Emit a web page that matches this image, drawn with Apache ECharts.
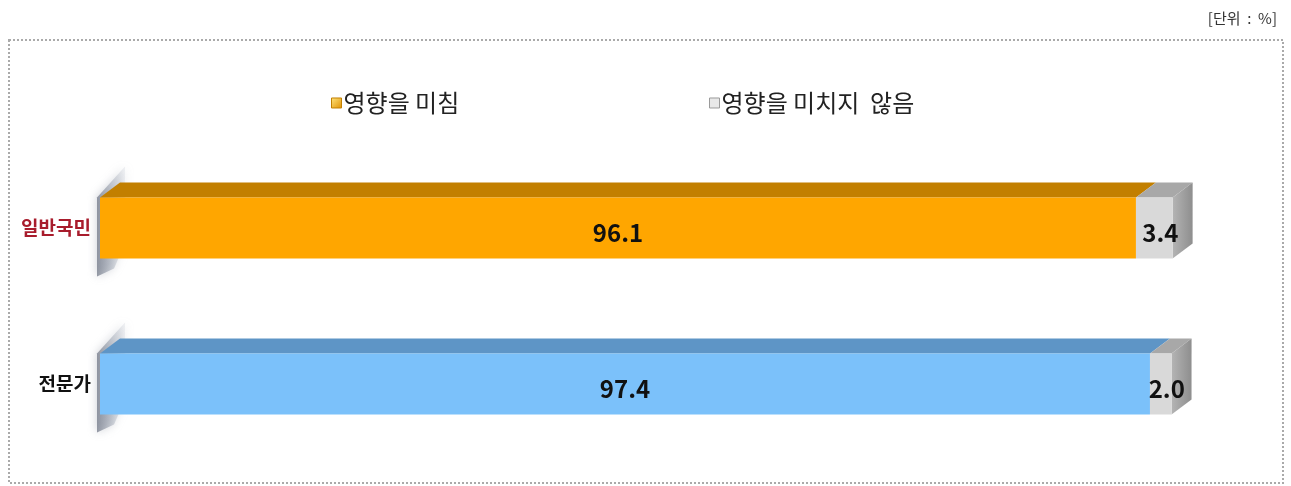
<!DOCTYPE html>
<html>
<head>
<meta charset="utf-8">
<script src="https://cdn.jsdelivr.net/npm/echarts@6/dist/echarts.min.js"></script>
<style>
html,body{margin:0;padding:0;background:#fff;}
#chart{width:1291px;height:486px;}
</style>
</head>
<body>
<div id="chart"></div>
<script>
var categories = ['일반국민', '전문가'];
var seriesNames = ['영향을 미침', '영향을 미치지  않음'];
var affected = [96.1, 97.4];
var notAffected = [3.4, 2.0];

// 앞면 / 윗면 색
var frontColors = [['#FFA600', '#7BC1FA'], ['#D9D9D9', '#D9D9D9']];
var topColors = [['#C27F00', '#5E95C6'], ['#A8A8A8', '#A8A8A8']];
var DX = 20, DY = 15;

var myChart = echarts.init(document.getElementById('chart'));

function buildData(idx){
    var list = [];
    for (var i = 0; i < categories.length; i++) {
        var start = idx == 0 ? 0 : affected[i];
        var val = idx == 0 ? affected[i] : notAffected[i];
        list.push([i, start, start + val, val]);
    }
    return list;
}

function renderBar(idx){
    return function(params, api){
        var cat = api.value(0);
        var p0 = api.coord([api.value(1), cat]);
        var p1 = api.coord([api.value(2), cat]);
        var h = api.size([0, 1])[1] * 0.39;
        var yt = p0[1] - h / 2, yb = p0[1] + h / 2;
        var x0 = p0[0], x1 = p1[0];
        var children = [];
        if (idx == 0) {
            // 왼쪽 벽 그림자
            children.push({
                type: 'polygon',
                shape: {points: [[x0 - 3, yt], [x0 + DX + 5, yt - DY - 16], [x0 + DX + 5, yb - DY], [x0 + 14, yb + 10], [x0 - 3, yb + 18]]},
                style: {
                    fill: new echarts.graphic.LinearGradient(0, 0, 1, 0, [
                        {offset: 0, color: 'rgba(105,112,128,0.7)'},
                        {offset: 0.5, color: 'rgba(150,158,172,0.5)'},
                        {offset: 1, color: 'rgba(200,205,215,0.25)'}
                    ]),
                    shadowBlur: 10, shadowColor: 'rgba(120,128,145,0.55)'
                }
            });
        }
        children.push({
            type: 'polygon',
            shape: {points: [[x0, yt], [x1, yt], [x1 + DX, yt - DY], [x0 + DX, yt - DY]]},
            style: {fill: topColors[idx][cat]}
        });
        if (idx == 1) {
            children.push({
                type: 'polygon',
                shape: {points: [[x1, yt], [x1 + DX, yt - DY], [x1 + DX, yb - DY], [x1, yb]]},
                style: {fill: new echarts.graphic.LinearGradient(0, 0, 1, 0, [
                    {offset: 0, color: '#B4B4B4'}, {offset: 1, color: '#8E8E8E'}
                ])}
            });
        }
        children.push({
            type: 'rect',
            shape: {x: x0, y: yt, width: x1 - x0, height: h},
            style: {fill: frontColors[idx][cat]}
        });
        var tx = idx == 0 ? (x0 + x1) / 2 : (x0 + x1) / 2 + 6;
        children.push({
            type: 'text',
            style: {
                text: api.value(3).toFixed(1),
                x: tx, y: p0[1] + 5,
                align: 'center', verticalAlign: 'middle',
                font: 'bold 24px "Noto Sans CJK KR"',
                fill: '#111'
            }
        });
        return {type: 'group', children: children};
    };
}

var option = {
    animation: false,
    title: {
        text: '[단위  :  %]',
        right: 9, top: 6,
        textStyle: {fontSize: 15, fontWeight: 'normal', color: '#333', fontFamily: 'Noto Sans CJK KR'}
    },
    graphic: [{
        type: 'rect',
        shape: {x: 9, y: 40, width: 1274, height: 443},
        style: {fill: 'none', stroke: '#aaa', lineWidth: 2, lineDash: [2, 2]}
    }],
    legend: [{
        left: 326, top: 86,
        data: [{name: seriesNames[0], itemStyle: {color: new echarts.graphic.LinearGradient(0, 0, 1, 1, [
            {offset: 0, color: '#FFE680'}, {offset: 1, color: '#E09000'}
        ]), borderColor: '#C27F00', borderWidth: 1}}],
        itemWidth: 10, itemHeight: 10, itemGap: 5, icon: 'rect',
        textStyle: {fontSize: 24, color: '#222', fontFamily: 'Noto Sans CJK KR', padding: [0, 0, 0, -3]}
    }, {
        left: 704, top: 86,
        data: [{name: seriesNames[1], itemStyle: {color: '#E8E8E8', borderColor: '#9A9A9A', borderWidth: 1}}],
        itemWidth: 10, itemHeight: 10, icon: 'rect',
        textStyle: {fontSize: 24, color: '#222', fontFamily: 'Noto Sans CJK KR', padding: [0, 0, 0, -3]}
    }],
    grid: {left: 100, right: 113, top: 150, bottom: 24},
    xAxis: {
        type: 'value', min: 0, max: 100,
        show: false
    },
    yAxis: {
        type: 'category', inverse: true,
        data: categories,
        axisLine: {show: false}, axisTick: {show: false},
        axisLabel: {
            margin: 9,
            fontFamily: 'Noto Sans CJK KR',
            formatter: function(v, i){
                return i == 0 ? '{r|' + v + '}' : '{b|' + v + '}';
            },
            rich: {
                r: {fontSize: 19, fontWeight: 'bold', color: '#A81C2C', fontFamily: 'Noto Sans CJK KR'},
                b: {fontSize: 19, fontWeight: 'bold', color: '#111', fontFamily: 'Noto Sans CJK KR'}
            }
        }
    },
    series: [{
        name: seriesNames[0],
        type: 'custom',
        renderItem: renderBar(0),
        encode: {x: [1, 2], y: 0},
        data: buildData(0)
    }, {
        name: seriesNames[1],
        type: 'custom',
        renderItem: renderBar(1),
        encode: {x: [1, 2], y: 0},
        data: buildData(1)
    }]
};
myChart.setOption(option);
</script>
</body>
</html>
